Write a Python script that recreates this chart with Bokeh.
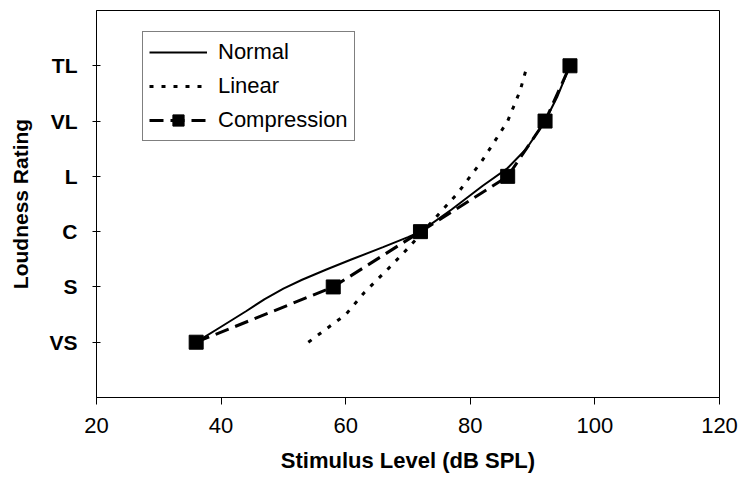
from bokeh.plotting import figure
from bokeh.models import Range1d, FixedTicker, Legend, LegendItem
from bokeh.embed import file_html
from bokeh.resources import INLINE

# ---- data ----
rating_labels = ["VS", "S", "C", "L", "VL", "TL"]
rating_values = [1, 2, 3, 4, 5, 6]

normal_x = [36, 40, 44, 47, 50, 53, 57, 61, 66, 70, 72, 77, 82, 86, 89, 92, 94, 96]
normal_y = [1.0, 1.28, 1.56, 1.78, 1.97, 2.13, 2.32, 2.5, 2.72, 2.9, 3.0, 3.4, 3.83, 4.15, 4.5, 5.0, 5.45, 6.0]

linear_x = [54, 57, 60, 63, 67, 70, 74, 78, 82, 86, 88, 89]
linear_y = [1.0, 1.25, 1.5, 1.9, 2.35, 2.7, 3.2, 3.7, 4.3, 5.0, 5.55, 5.95]

comp_x = [36, 58, 72, 86, 92, 96]
comp_y = [1, 2, 3, 4, 5, 6]

x_ticks = [20, 40, 60, 80, 100, 120]

FONT = "Liberation Sans"

p = figure(width=740, height=482, output_backend="svg", toolbar_location=None,
           x_range=Range1d(20, 120), y_range=Range1d(0, 7))
p.min_border_left = 96
p.min_border_right = 21
p.min_border_top = 10
p.min_border_bottom = 85
p.background_fill_color = "white"
p.border_fill_color = "white"
p.outline_line_color = "black"
p.outline_line_width = 1
p.grid.visible = False

# axes
p.xaxis.ticker = FixedTicker(ticks=x_ticks)
p.yaxis.ticker = FixedTicker(ticks=rating_values)
p.yaxis.major_label_overrides = {v: l for v, l in zip(rating_values, rating_labels)}
p.xaxis.minor_tick_line_color = None
p.yaxis.minor_tick_line_color = None
for ax in (p.xaxis[0], p.yaxis[0]):
    ax.axis_line_color = "black"
    ax.major_tick_line_color = "black"
    ax.major_label_text_font = FONT
    ax.major_label_text_color = "black"
    ax.axis_label_text_font = FONT
    ax.axis_label_text_font_style = "bold"
    ax.axis_label_text_color = "black"

p.xaxis.major_tick_in = 0
p.xaxis.major_tick_out = 7
p.yaxis.major_tick_in = 4
p.yaxis.major_tick_out = 4
p.xaxis.major_label_text_font_size = "22px"
p.yaxis.major_label_text_font_size = "21px"
p.yaxis.major_label_text_font_style = "bold"
p.xaxis.major_label_standoff = 13
p.yaxis.major_label_standoff = 15
p.xaxis.axis_label = "Stimulus Level (dB SPL)"
p.yaxis.axis_label = "Loudness Rating"
p.xaxis.axis_label_text_font_size = "22px"
p.yaxis.axis_label_text_font_size = "21px"
p.xaxis.axis_label_standoff = 12
p.yaxis.axis_label_standoff = 14

# series
r_norm = p.line(normal_x, normal_y, line_color="black", line_width=2)
r_lin = p.line(linear_x, linear_y, line_color="black", line_width=3, line_dash="4 8")
r_comp_line = p.line(comp_x, comp_y, line_color="black", line_width=3, line_dash="14 7")
r_comp_pts = p.scatter(comp_x, comp_y, marker="square", size=14,
                       fill_color="black", line_color="black")

legend = Legend(items=[
    LegendItem(label="Normal", renderers=[r_norm]),
    LegendItem(label="Linear", renderers=[r_lin]),
    LegendItem(label="Compression", renderers=[r_comp_line, r_comp_pts]),
], location=(46, 256))
legend.margin = 0
legend.padding = 6
legend.spacing = 6
legend.glyph_width = 58
legend.glyph_height = 28
legend.label_height = 28
legend.label_standoff = 11
legend.label_text_font = FONT
legend.label_text_font_size = "22px"
legend.label_text_color = "black"
legend.border_line_color = "black"
legend.border_line_width = 1
legend.background_fill_color = "white"
legend.background_fill_alpha = 1
p.add_layout(legend, "center")

open("out.html", "w").write(file_html(p, INLINE))
